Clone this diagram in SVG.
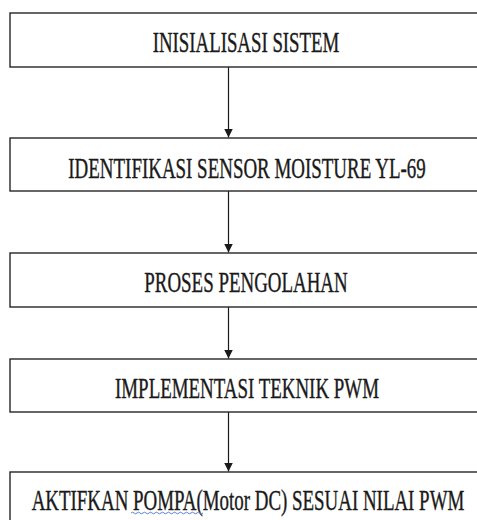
<svg xmlns="http://www.w3.org/2000/svg" width="477" height="520" viewBox="0 0 477 520">
<style>
.box{fill:#fff;stroke:#262626;stroke-width:1.4}
.lbl{font-family:"Liberation Serif","Times New Roman",serif;font-size:19px;fill:#1a1a1a;stroke:#1a1a1a;stroke-width:0.25;text-anchor:start}
.edge{stroke:#1a1a1a;stroke-width:1.2;fill:none}
</style>
<defs>
<marker id="ah" viewBox="0 0 10 10" refX="10" refY="5" markerWidth="9" markerHeight="9" markerUnits="userSpaceOnUse" orient="auto">
<path d="M0,0 L10,5 L0,10 z" fill="#1a1a1a"/>
</marker>
</defs>
<rect width="477" height="520" fill="#fff"/>
<g id="connectors">
<line class="edge" x1="228.5" y1="67" x2="228.5" y2="137.5" marker-end="url(#ah)"/>
<line class="edge" x1="228.5" y1="191" x2="228.5" y2="252.5" marker-end="url(#ah)"/>
<line class="edge" x1="228.5" y1="307" x2="228.5" y2="358.5" marker-end="url(#ah)"/>
<line class="edge" x1="228.5" y1="412" x2="228.5" y2="471.5" marker-end="url(#ah)"/>
</g>
<g id="n1">
<rect class="box" x="10" y="13" width="468" height="54"/>
<text class="lbl" transform="translate(152.7,52.3) scale(1,1.55)" textLength="186.6" lengthAdjust="spacingAndGlyphs">INISIALISASI SISTEM</text>
</g>
<g id="n2">
<rect class="box" x="10" y="138" width="468" height="53"/>
<text class="lbl" transform="translate(68.3,178) scale(1,1.55)" textLength="357.4" lengthAdjust="spacingAndGlyphs">IDENTIFIKASI SENSOR MOISTURE YL-69</text>
</g>
<g id="n3">
<rect class="box" x="10" y="253" width="468" height="54"/>
<text class="lbl" transform="translate(144.3,292) scale(1,1.55)" textLength="203.4" lengthAdjust="spacingAndGlyphs">PROSES PENGOLAHAN</text>
</g>
<g id="n4">
<rect class="box" x="10" y="359" width="468" height="53"/>
<text class="lbl" transform="translate(115,397.5) scale(1,1.55)" textLength="264" lengthAdjust="spacingAndGlyphs">IMPLEMENTASI TEKNIK PWM</text>
</g>
<g id="n5">
<rect class="box" x="10" y="472" width="468" height="60"/>
<text class="lbl" transform="translate(31.7,509.5) scale(1,1.55)" textLength="432.6" lengthAdjust="spacingAndGlyphs">AKTIFKAN POMPA(Motor DC) SESUAI NILAI PWM</text>
<path d="M131,513 q1.5,-1.6 3,0 t3,0 t3,0 t3,0 t3,0 t3,0 t3,0 t3,0 t3,0 t3,0 t3,0 t3,0 t3,0 t3,0 t3,0 t3,0 t3,0 t3,0 t3,0 t3,0 t3,0 t3,0 t3,0 t3,0" fill="none" stroke="#4a6fd0" stroke-width="0.9"/>
</g>
</svg>
